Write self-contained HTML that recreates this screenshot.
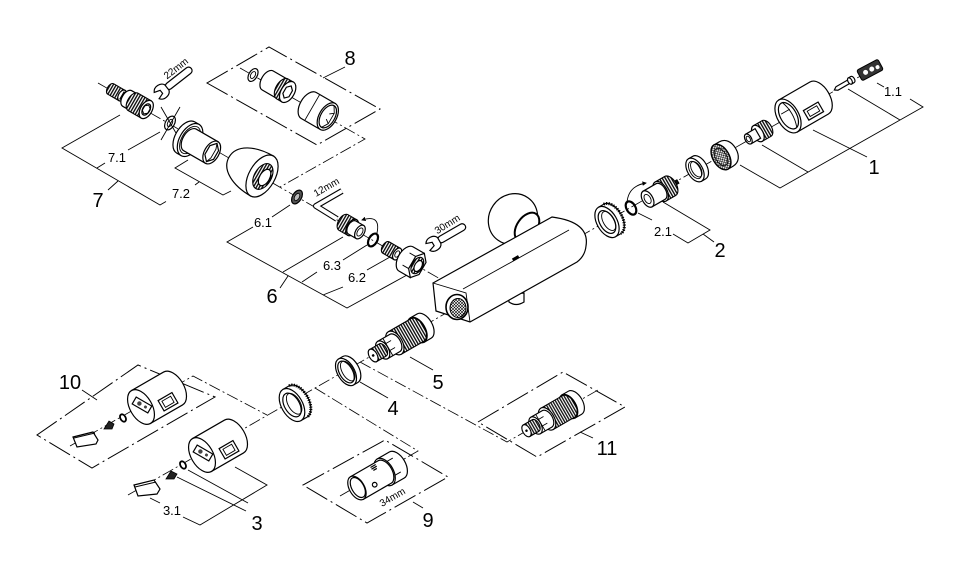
<!DOCTYPE html>
<html><head><meta charset="utf-8">
<style>
html,body{margin:0;padding:0;background:#fff;width:960px;height:575px;overflow:hidden}
svg{display:block}
text{font-family:"Liberation Sans",Arial,sans-serif;fill:#000}
.s{fill:none;stroke:#000;stroke-width:0.9}
.w{fill:#fff;stroke:#000;stroke-width:1.2}
.t{fill:url(#thr);stroke:#000;stroke-width:1.1}
.c{fill:none;stroke:#000;stroke-width:0.8;stroke-dasharray:12 3 2 3}
.b{fill:none;stroke:#000;stroke-width:1;stroke-dasharray:24 4 2 4}
.k{fill:#222;stroke:#000;stroke-width:0.8}
.o{fill:none;stroke:#000;stroke-width:2.2}
</style></head><body>
<svg width="960" height="575" viewBox="0 0 960 575" xmlns="http://www.w3.org/2000/svg">
<defs>
<pattern id="thr" width="2.6" height="60" patternUnits="userSpaceOnUse"><rect width="2.6" height="60" fill="#fff"/><rect width="1.4" height="60" fill="#111"/></pattern>
<pattern id="mesh" width="3" height="3" patternUnits="userSpaceOnUse"><rect width="3" height="3" fill="#fff"/><path d="M0,0L3,3M3,0L0,3" stroke="#000" stroke-width="0.6"/></pattern>
<marker id="ah" viewBox="0 0 10 10" refX="8" refY="5" markerWidth="5" markerHeight="5" orient="auto-start-reverse"><path d="M0,0L10,5L0,10Z" fill="#000"/></marker>
</defs>

<!-- chain / axis lines -->
<g class="c">
<path d="M128,495L878,66"/>
<path d="M98,83L442,280"/>
<path d="M240,68L365,139L280,187"/>
<path d="M70,446L193,376L267,415"/>
<path d="M360,362L507,442L598,390"/>
<path d="M315,388L418,451L340,496"/>
</g>

<!-- dashed boxes -->
<g class="b">
<path d="M207,83L269,47L380,109L317,145Z"/>
<path d="M37,435L138,365L215,397L92,468Z"/>
<path d="M478,422L563,372L625,407L537,457Z"/>
<path d="M303,485L385,440L448,477L367,523Z"/>
</g>

<!-- bracket / leader lines -->
<g class="s">
<path d="M848,89L900,120M877,83L884,87M910,99L923,107L780,188L740,165M813,130L867,157M762,145L808,172"/>
<path d="M663,202L710,230L688,243L673,234M638,213L652,220M703,234L714,242"/>
<path d="M253,227L227,242L347,308L407,275M272,217L290,205M283,272L343,237M302,282L317,272M343,260L367,245M323,295L343,287M367,270L390,257M280,288L288,276"/>
<path d="M120,115L62,148L160,205L166,201.5M97,168L105,163M128,150L160,132M108,190L118,181M195,185L199,182M188,160L175,168L223,195L231,191"/>
<path d="M345,67L323,78"/>
<path d="M235,467L267,485L200,525L183,517M150,498L160,503M188,470L248,503M177,477L246,511"/>
<path d="M410,357L433,370M360,382L388,398M580,432L593,438M413,502L423,508M82,390L97,400"/>
</g>

<!-- ===== Group 7 ===== -->
<g transform="translate(135,103) rotate(30)">
<path class="t" d="M-15,-6L-28,-6A3.5,6 0 0 0 -28,6L-15,6Z"/>
<ellipse class="w" cx="-15" rx="3.5" ry="6"/>
<path class="w" d="M-8,-4L-15,-4L-15,4L-8,4Z"/>
<path class="w" d="M-2,-9L-9,-9A5.2,9 0 0 0 -9,9L-2,9Z"/>
<ellipse class="w" cx="-2" rx="5.2" ry="9"/>
<path class="t" d="M13,-10L-2,-10A5.8,10 0 0 0 -2,10L13,10Z"/>
<ellipse class="w" cx="13" rx="5.8" ry="10" stroke-width="1.3"/>
<ellipse class="w" cx="13" rx="3.6" ry="6.2"/>
<path class="s" d="M13,-5L16,-2.5L16,2.5L13,5L10,2.5L10,-2.5Z"/>
</g>
<g transform="translate(174,82) rotate(-38)">
<rect class="w" x="-10" y="-3.5" width="32" height="7" rx="3.5"/>
<path class="w" d="M-9,-3.5C-11,-8 -19,-9 -22,-4L-16,-2L-16,2L-22,4C-19,9 -11,8 -9,3.5Z"/>
</g>
<text font-size="10" transform="translate(178,71) rotate(-38)" text-anchor="middle">22mm</text>
<ellipse class="w" cx="170" cy="123" rx="4.5" ry="7.5" transform="rotate(30 170 123)" stroke-width="1.6"/>
<ellipse class="s" cx="170" cy="123" rx="2.2" ry="4" transform="rotate(30 170 123)"/>
<path class="s" d="M161,107L180,140M180,107L161,140"/>
<g transform="translate(197,144) rotate(30)">
<path class="w" d="M-8,-18L-13,-18A10.5,18 0 0 0 -13,18L-8,18Z" stroke-width="1.5"/>
<ellipse class="w" cx="-8" rx="10.5" ry="18" stroke-width="1.5"/>
<ellipse class="s" cx="-8" rx="8.5" ry="15"/>
<path class="w" d="M17,-12.5L-8,-12.5A7.3,12.5 0 0 0 -8,12.5L17,12.5Z"/>
<ellipse class="w" cx="17" rx="7.3" ry="12.5" stroke-width="1.5"/>
<path class="w" d="M17,-10.5L22,-5L22,5L17,10.5L12,5L12,-5Z" stroke-width="1.4"/>
<path class="s" d="M17,-10.5L19,-5L19,5L17,10.5"/>
</g>
<g transform="translate(262,176) rotate(30)">
<path class="w" d="M0,-23C-20,-23 -38,-15 -38,0C-38,15 -20,23 0,23Z" stroke-width="1.3"/>
<ellipse class="w" rx="13" ry="23" stroke-width="1.3"/>
<ellipse class="t" cx="1" rx="8.5" ry="14"/>
<ellipse class="w" cx="3" rx="5" ry="9"/>
</g>

<!-- ===== Group 8 ===== -->
<g transform="translate(253,75) rotate(30)"><ellipse class="w" rx="4.2" ry="7" stroke-width="1.4"/><ellipse class="s" rx="2.2" ry="3.8"/></g>
<g transform="translate(279,87) rotate(30)">
<path class="w" d="M4,-11L-13,-11A6.4,11 0 0 0 -13,11L4,11Z"/>
<path class="t" d="M10,-11.5L4,-11.5A6.7,11.5 0 0 0 4,11.5L10,11.5Z"/>
<ellipse class="w" cx="10" rx="6.7" ry="11.5" stroke-width="1.3"/>
<path class="w" d="M10,-7L13.5,-3.5L13.5,3.5L10,7L6.5,3.5L6.5,-3.5Z"/>
</g>
<g transform="translate(320,112) rotate(30)">
<path class="w" d="M9,-15L-13,-15A8.7,15 0 0 0 -13,15L9,15Z" stroke-width="1.3"/>
<path class="s" d="M-9,-14.5L-9,14.5" stroke-width="0.7"/>
<ellipse class="w" cx="9" rx="8.7" ry="15" stroke-width="1.3"/>
<ellipse class="w" cx="9" rx="7" ry="12.5"/>
<path class="s" d="M9,-12.5L13,-6L13,6L9,12.5M13,-6L9,-3M13,6L9,3"/>
</g>

<!-- ===== Group 6 ===== -->
<g transform="translate(297,197) rotate(30)"><ellipse rx="4.5" ry="7.5" fill="#555" stroke="#000" stroke-width="1.2"/><ellipse rx="2.3" ry="4" fill="#bbb" stroke="#000" stroke-width="0.8"/></g>
<path d="M342,191L316,206L337,219" fill="none" stroke="#000" stroke-width="6" stroke-linejoin="round"/>
<path d="M342,191L316,206L337,219" fill="none" stroke="#fff" stroke-width="3.8" stroke-linejoin="round"/>
<text font-size="10" transform="translate(328,190) rotate(-30)" text-anchor="middle">12mm</text>
<g transform="translate(353,228) rotate(30)">
<path class="t" d="M-1,-9L-11,-9A5.2,9 0 0 0 -11,9L-1,9Z"/>
<ellipse class="w" cx="-1" rx="5.2" ry="9"/>
<path class="w" d="M8,-7.5L-1,-7.5A4.4,7.5 0 0 0 -1,7.5L8,7.5Z"/>
<ellipse class="w" cx="8" rx="4.4" ry="7.5" stroke-width="1.3"/>
<ellipse class="s" cx="8" rx="2.5" ry="4.5"/>
</g>
<path class="s" d="M377,233Q381,214 362,220" marker-end="url(#ah)"/>
<ellipse class="o" cx="373" cy="240" rx="4.2" ry="7" transform="rotate(30 373 240)"/>
<g transform="translate(392,251) rotate(30)">
<path class="t" d="M6,-6.5L-7,-6.5A3.8,6.5 0 0 0 -7,6.5L6,6.5Z"/>
<ellipse class="w" cx="6" rx="3.8" ry="6.5"/>
<ellipse class="s" cx="6" rx="2" ry="3.5"/>
</g>
<g transform="translate(413,263) rotate(30)">
<path class="w" d="M5,-14L-8,-14A8,14 0 0 0 -8,14L5,14Z" stroke-width="1.3"/>
<path class="s" d="M-8,-7L-1,-7M-8,7L-1,7"/>
<path class="w" d="M5,-14L11,-7L11,7L5,14L-1,7L-1,-7Z" stroke-width="1.3"/>
<ellipse class="t" cx="5" rx="5.3" ry="9"/>
<ellipse class="w" cx="6" rx="3.5" ry="6"/>
</g>
<g transform="translate(447,236) rotate(-30)">
<rect class="w" x="-10" y="-3.5" width="31" height="7" rx="3.5"/>
<path class="w" d="M-9,-3.5C-11,-8 -19,-9 -22,-4L-16,-2L-16,2L-22,4C-19,9 -11,8 -9,3.5Z"/>
</g>
<text font-size="10" transform="translate(449,227) rotate(-32)" text-anchor="middle">30mm</text>

<!-- ===== Valve body ===== -->
<ellipse class="w" cx="513" cy="219" rx="24" ry="26" transform="rotate(35 513 219)" stroke-width="1.3"/>
<ellipse cx="527" cy="227" rx="10" ry="16" transform="rotate(35 527 227)" fill="#fff" stroke="#000" stroke-width="2"/>
<path class="w" d="M508,294L509,302Q516,307 524,302L524,293Z"/>
<path class="w" d="M433,283L552,217Q590,222 586,246Q585,256 577,262L470,322L436,311Z" stroke-width="1.3"/>
<path class="s" d="M433,283L466,293L470,322" stroke-width="1.2"/>
<path class="s" d="M463,289L569,230"/>
<rect x="512" y="257" width="7" height="3" fill="#000" transform="rotate(-30 515 258)"/>
<ellipse cx="457" cy="307" rx="11" ry="12.5" fill="#fff" stroke="#000" stroke-width="1.6"/>
<ellipse cx="458" cy="308" rx="8" ry="9.5" fill="url(#mesh)" stroke="#000" stroke-width="1"/>

<!-- ===== Group 2 ===== -->
<g transform="translate(607,222) rotate(-30)">
<path class="w" d="M0,-17L6,-17A10,17 0 0 1 6,17L0,17Z" stroke-width="1.4"/>
<path d="M6,-17A10,17 0 0 1 6,17" fill="none" stroke="#000" stroke-width="3" stroke-dasharray="1.2 1.3"/>
<ellipse class="w" rx="10" ry="17" stroke-width="1.5"/>
<ellipse class="w" rx="7.2" ry="12.5"/>
<ellipse class="s" cx="2" rx="5.5" ry="10.5"/>
</g>
<ellipse class="o" cx="631" cy="208" rx="4.5" ry="7.2" transform="rotate(-30 631 208)"/>
<path class="s" d="M627,203Q628,186 646,183" marker-end="url(#ah)"/>
<g transform="translate(658,193) rotate(-30)">
<path d="M14,-2L23,-2L23,2L14,2Z" fill="#111" stroke="#000"/>
<path class="t" d="M3,-11L14,-11A6.4,11 0 0 1 14,11L3,11Z"/>
<ellipse class="w" cx="3" rx="6.4" ry="11"/>
<path class="w" d="M-12,-9L3,-9A5.2,9 0 0 1 3,9L-12,9Z"/>
<ellipse class="w" cx="-12" rx="5.2" ry="9" stroke-width="1.3"/>
<ellipse class="s" cx="-12" rx="3" ry="5"/>
</g>

<!-- ===== Group 1 ===== -->
<g transform="translate(695,170) rotate(-30)">
<path class="w" d="M0,-13L5,-13A7.5,13 0 0 1 5,13L0,13Z" stroke-width="1.5"/>
<ellipse class="w" rx="7.5" ry="13" stroke-width="1.6"/>
<ellipse class="s" rx="5.2" ry="9.5"/>
<ellipse class="s" cx="1.5" rx="4.5" ry="8.5"/>
</g>
<g transform="translate(721,157) rotate(-30)">
<path class="w" d="M0,-14L6,-14C13,-14 17,-8 17,0C17,8 13,14 6,14L0,14Z"/>
<ellipse rx="8.2" ry="14" fill="url(#mesh)" stroke="#000" stroke-width="1.4"/>
<ellipse rx="5.5" ry="9.5" fill="none" stroke="#000" stroke-width="0.8"/>
</g>
<g transform="translate(757,134) rotate(-30)">
<path class="t" d="M1,-9L11,-9A5.2,9 0 0 1 11,9L1,9Z"/>
<ellipse class="w" cx="1" rx="5.2" ry="9"/>
<path class="w" d="M-10,-5.5L1,-5.5L1,5.5L-10,5.5Z"/>
<ellipse class="w" cx="-10" rx="3.2" ry="5.5"/>
<ellipse class="s" cx="-10" rx="1.8" ry="3"/>
</g>
<g transform="translate(788,116) rotate(-30)">
<path class="w" d="M0,-18.5L36,-18.5A10.7,18.5 0 0 1 36,18.5L0,18.5Z" stroke-width="1.3"/>
<rect class="w" x="16" y="3" width="17" height="11"/>
<rect class="s" x="19" y="5.5" width="11" height="6"/>
<ellipse class="w" rx="10.7" ry="18.5" stroke-width="1.3"/>
<ellipse class="w" cx="0.5" rx="8" ry="14.5"/>
<path class="s" d="M2,-14Q7,0 2,14M-5,-5L5,-5"/>
</g>
<g transform="translate(843,85) rotate(-30)">
<path class="w" d="M-10,0L-7,-2L8,-2L8,2L-7,2Z"/>
<path class="w" d="M8,-3.5L11,-3.5A2,3.5 0 0 1 11,3.5L8,3.5Z"/>
<ellipse class="w" cx="8" rx="2" ry="3.5"/>
</g>
<g transform="translate(870,70) rotate(-28)">
<rect x="-12" y="-6" width="24" height="12" rx="2" fill="#333" stroke="#000"/>
<circle cx="-5" r="2.5" fill="#fff"/><circle cx="2" r="2.5" fill="#fff"/><circle cx="8" cy="1" r="2" fill="#fff"/>
</g>

<!-- ===== Lower group ===== -->
<g transform="translate(292,405) rotate(-30)">
<path class="w" d="M0,-18L7,-18A10.5,18 0 0 1 7,18L0,18Z" stroke-width="1.5"/>
<path d="M7,-18A10.5,18 0 0 1 7,18" fill="none" stroke="#000" stroke-width="3" stroke-dasharray="1.2 1.2"/>
<ellipse class="w" rx="10.5" ry="18" stroke-width="1.6"/>
<ellipse class="w" rx="7.5" ry="13"/>
<ellipse class="s" cx="2.5" rx="6" ry="11.5"/>
</g>
<g transform="translate(346,372) rotate(-30)">
<path class="w" d="M0,-15L5,-15A8.5,15 0 0 1 5,15L0,15Z" stroke-width="1.5"/>
<ellipse class="w" rx="8.5" ry="15" stroke-width="1.5"/>
<ellipse class="w" rx="6.5" ry="12"/>
<ellipse class="s" cx="2" rx="5.5" ry="11"/>
</g>
<g transform="translate(400,340) rotate(-30)">
<path class="w" d="M20,-14L28,-14A8,14 0 0 1 28,14L20,14Z"/>
<ellipse class="w" cx="20" rx="8" ry="14"/>
<path class="t" d="M-6,-13L20,-13A7.5,13 0 0 1 20,13L-6,13Z"/>
<ellipse class="w" cx="-6" rx="7.5" ry="13"/>
<path class="w" d="M-20,-10L-6,-10A5.8,10 0 0 1 -6,10L-20,10Z"/>
<path class="s" d="M-20,-4L-8,-4M-20,4L-8,4M-14,-10L-14,10"/>
<ellipse class="w" cx="-20" rx="5.8" ry="10"/>
<path class="t" d="M-31,-7L-20,-7A4,7 0 0 1 -20,7L-31,7Z"/>
<ellipse class="w" cx="-31" rx="4" ry="7"/>
<circle cx="-31" r="1.3" fill="#000"/>
</g>
<g transform="translate(552,416) rotate(-30) scale(0.95)">
<path class="w" d="M20,-14L28,-14A8,14 0 0 1 28,14L20,14Z"/>
<ellipse class="w" cx="20" rx="8" ry="14"/>
<path class="t" d="M-6,-13L20,-13A7.5,13 0 0 1 20,13L-6,13Z"/>
<ellipse class="w" cx="-6" rx="7.5" ry="13"/>
<path class="w" d="M-20,-10L-6,-10A5.8,10 0 0 1 -6,10L-20,10Z"/>
<path class="s" d="M-20,-4L-8,-4M-20,4L-8,4M-14,-10L-14,10"/>
<ellipse class="w" cx="-20" rx="5.8" ry="10"/>
<path class="t" d="M-31,-7L-20,-7A4,7 0 0 1 -20,7L-31,7Z"/>
<ellipse class="w" cx="-31" rx="4" ry="7"/>
<circle cx="-31" r="1.3" fill="#000"/>
</g>

<!-- tool 9 -->
<g transform="translate(376,477) rotate(-30)">
<path class="w" d="M10,-15L24,-15A8.7,15 0 0 1 24,15L10,15Z" stroke-width="1.3"/>
<path class="s" d="M10,-8L24,-8M10,8L24,8"/>
<ellipse class="w" cx="10" rx="8.7" ry="15"/>
<path class="w" d="M-22,-13L10,-13A7.5,13 0 0 1 10,13L-22,13Z" stroke-width="1.3"/>
<path d="M0,-11L6,-11M0,-9L6,-9M1,-7L5,-7" stroke="#000" stroke-width="1.2"/>
<circle cx="-5" cy="6" r="2.3" class="w"/>
<ellipse class="w" cx="-22" rx="7.5" ry="13" stroke-width="1.3"/>
<ellipse class="w" cx="-21" rx="6" ry="11"/>
</g>
<text font-size="10" transform="translate(394,500) rotate(-30)" text-anchor="middle">34mm</text>

<!-- handle 3 -->
<g transform="translate(202,455) rotate(-30)">
<path class="w" d="M0,-19L37,-19A11,19 0 0 1 37,19L0,19Z" stroke-width="1.3"/>
<rect class="w" x="18" y="3" width="16" height="12"/>
<rect class="s" x="21" y="5.5" width="10" height="7"/>
<ellipse class="w" rx="11" ry="19" stroke-width="1.3"/>
</g>
<g transform="translate(203,453) rotate(30)">
<rect class="w" x="-9" y="-4" width="18" height="8"/>
<circle cx="-3" r="2.2" fill="#444"/><circle cx="4" r="1.5" fill="#444"/>
</g>
<ellipse cx="183" cy="465" rx="2.6" ry="4" transform="rotate(-30 183 465)" fill="#fff" stroke="#000" stroke-width="1.8"/>
<path class="k" d="M166,479L171,471L177,474L174,479Z"/>
<path class="w" d="M134,485L154,480L160,489L157,494L138,496Z"/>
<path class="s" d="M135,487L156,482"/>

<!-- handle 10 -->
<g transform="translate(141,407) rotate(-30)">
<path class="w" d="M0,-19L37,-19A11,19 0 0 1 37,19L0,19Z" stroke-width="1.3"/>
<rect class="w" x="18" y="3" width="16" height="12"/>
<rect class="s" x="21" y="5.5" width="10" height="7"/>
<ellipse class="w" rx="11" ry="19" stroke-width="1.3"/>
</g>
<g transform="translate(142,405) rotate(30)">
<rect class="w" x="-9" y="-4" width="18" height="8"/>
<circle cx="-3" r="2.2" fill="#444"/><circle cx="4" r="1.5" fill="#444"/>
</g>
<ellipse cx="123" cy="418" rx="2.6" ry="4" transform="rotate(-30 123 418)" fill="#fff" stroke="#000" stroke-width="1.8"/>
<path class="k" d="M104,429L109,421L114,424L112,429Z"/>
<path class="w" d="M73,437L93,432L98,440L96,444L77,447Z"/>
<path class="s" d="M74,438L95,433"/>

<!-- labels -->
<g text-anchor="middle">
<text x="893" y="96" font-size="13">1.1</text>
<text x="874" y="174" font-size="20">1</text>
<text x="663" y="236" font-size="13">2.1</text>
<text x="720" y="257" font-size="20">2</text>
<text x="350" y="65" font-size="20">8</text>
<text x="117" y="162" font-size="13">7.1</text>
<text x="98" y="207" font-size="20">7</text>
<text x="181" y="198" font-size="13">7.2</text>
<text x="263" y="227" font-size="13">6.1</text>
<text x="332" y="270" font-size="13">6.3</text>
<text x="357" y="282" font-size="13">6.2</text>
<text x="272" y="303" font-size="20">6</text>
<text x="438" y="389" font-size="20">5</text>
<text x="393" y="415" font-size="20">4</text>
<text x="607" y="455" font-size="20">11</text>
<text x="428" y="527" font-size="20">9</text>
<text x="70" y="389" font-size="20">10</text>
<text x="257" y="530" font-size="20">3</text>
<text x="172" y="515" font-size="13">3.1</text>
</g>
</svg>
</body></html>
